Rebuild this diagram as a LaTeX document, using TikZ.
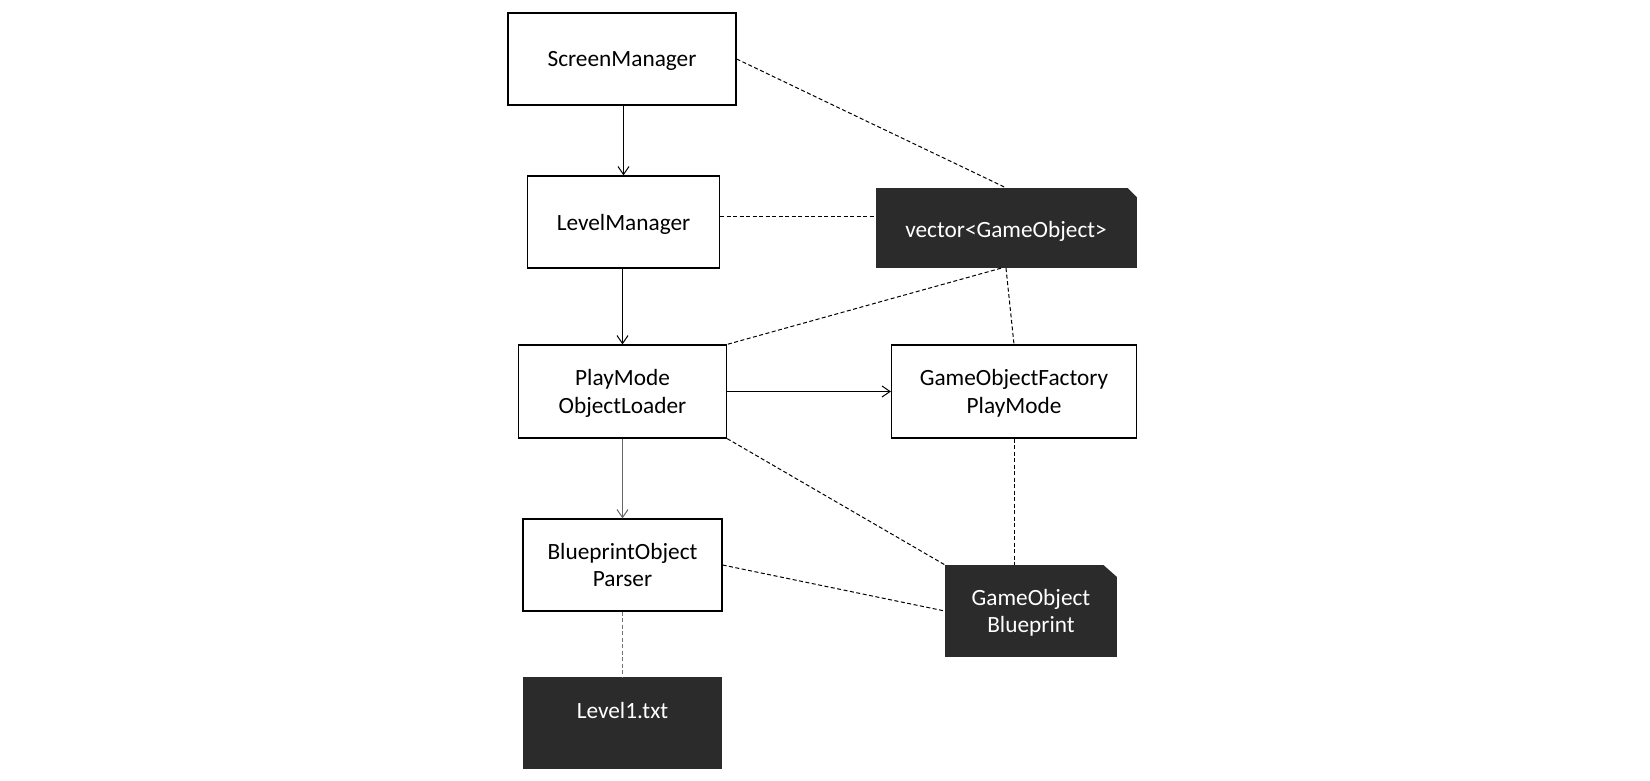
\documentclass[tikz,border=0pt]{standalone}
\usepackage{fontspec}
\setmainfont{Carlito}
\usetikzlibrary{arrows.meta}
\definecolor{darkbox}{HTML}{2B2B2B}
\begin{document}
\begin{tikzpicture}[x=1pt,y=-1pt,
  font=\fontsize{23.3}{27.5}\selectfont,
  box/.style={draw=black,line width=1.2pt,fill=white,align=center,inner sep=0pt,text depth=0pt},
  darkbox/.style={fill=darkbox,text=white,align=center,inner sep=0pt,text depth=0pt},
  flow/.style={line width=1pt,-{Straight Barb[length=8pt,width=11pt,line width=1pt]}},
  assoc/.style={line width=1pt,dash pattern=on 4pt off 2.5pt},
]
\useasboundingbox (0,0) rectangle (1650,781);
\node[box,minimum width=228,minimum height=92] (SM) at (622,59) {ScreenManager};
\node[box,minimum width=192,minimum height=92] (LM) at (623.5,222) {LevelManager};
\node[darkbox,minimum width=261,minimum height=80] (VEC) at (1006,228) {\raisebox{-3pt}{vector<GameObject>}};
\fill[white] ([shift={(2,-2)}]VEC.north east) -- ++(-13,0) -- ++(13,13) -- cycle;
\node[box,minimum width=208,minimum height=93] (PM) at (622.5,391.5) {PlayMode\\ObjectLoader};
\node[box,minimum width=245,minimum height=93] (GOF) at (1014,391.5) {GameObjectFactory\\PlayMode};
\node[box,minimum width=199,minimum height=92] (BOP) at (622.5,565) {BlueprintObject\\Parser};
\node[darkbox,minimum width=199,minimum height=92,
  label={[text=white,yshift=13pt]center:Level1.txt}] (L1) at (622.5,723) {};
\node[darkbox,minimum width=172,minimum height=92] (GOB) at (1031,611) {GameObject\\Blueprint};
\fill[white] ([shift={(2,-2)}]GOB.north east) -- ++(-18,0) -- ++(18,16) -- cycle;

\draw[flow] (SM.south -| LM.north) -- (LM.north);
\draw[flow] (LM.south -| PM.north) -- (PM.north);
\draw[flow,draw=black!60] (PM.south) -- (BOP.north);
\draw[flow] (PM.east) -- (GOF.west);
\draw[assoc] (SM.east) -- (VEC.north);
\draw[assoc] ([yshift=6pt]LM.east) -- ([yshift=6pt]LM.east -| VEC.west);
\draw[assoc] ([xshift=-5pt]VEC.south) -- (PM.north east);
\draw[assoc] (VEC.south) -- (GOF.north);
\draw[assoc] (PM.south east) -- (GOB.north west);
\draw[assoc] (GOF.south) -- (GOF.south |- GOB.north);
\draw[assoc] (BOP.east) -- (GOB.west);
\draw[assoc,draw=black!55] (BOP.south) -- (L1.north);
\end{tikzpicture}
\end{document}
